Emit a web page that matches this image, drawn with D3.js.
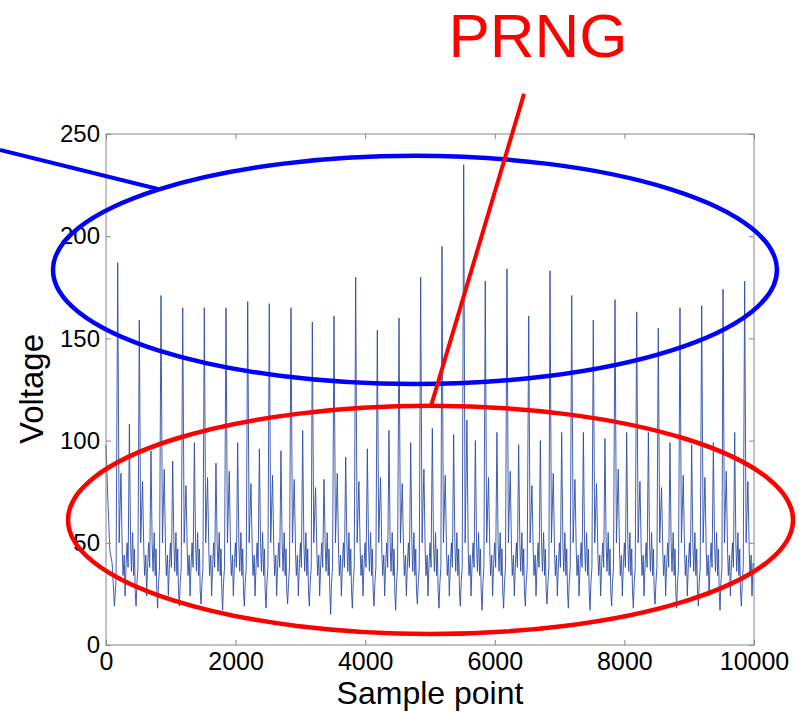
<!DOCTYPE html>
<html>
<head>
<meta charset="utf-8">
<script src="https://cdn.jsdelivr.net/npm/d3@7"></script>
<style>
  body { margin: 0; background: #fff; }
  text { font-family: Arial, "Liberation Sans", sans-serif; }
</style>
</head>
<body>
<script>
// axis ticks
var xTicks = [0, 2000, 4000, 6000, 8000, 10000];
var yTicks = [0, 50, 100, 150, 200, 250];

// one big spike per cycle: sample index and voltage
var peakSample = [181, 514, 849, 1184, 1517, 1852, 2187, 2520, 2855, 3184,
                  3519, 3853, 4187, 4522, 4856, 5185, 5520, 5853, 6188, 6523,
                  6852, 7187, 7520, 7855, 8190, 8523, 8858, 9193, 9522, 9856];
var bigPeak = [187, 159, 171, 165, 165, 165, 168, 167, 165, 158,
               161, 180, 154, 160, 180, 195, 235, 178, 184, 161,
               183, 171, 159, 169, 163, 155, 165, 166, 174, 178];
// small bump right after the big spike
var shoulderPeak = [84, 80, 86, 78, 82, 85, 79, 83, 81, 77,
                    84, 80, 82, 79, 86, 83, 110, 82, 85, 78,
                    84, 81, 79, 86, 80, 77, 83, 82, 85, 80];
// medium spike half way through the cycle
var midPeak = [108, 95, 90, 99, 89, 99, 96, 95, 105, 81,
               92, 96, 105, 99, 106, 103, 100, 104, 98, 100,
               104, 104, 101, 104, 104, 99, 98, 99, 104];
// lowest point just before the next big spike
var lowTrough = [19, 18, 19, 20, 17, 19, 18, 20, 19, 15,
                 18, 19, 17, 20, 18, 19, 17, 18, 19, 20,
                 18, 17, 19, 18, 20, 18, 19, 17, 19];

// shape of one cycle (samples after the big spike, voltage); null = per-cycle value
var cycleOffset = [0, 22, 50, 70, 82, 100, 113, 130, 145, 160, 180, 198, 212, 230, 245, 258, 270, 283, 296, 312];
var cycleLevel  = [null, 50, null, 46, 34, 44, 24, 40, 50, 38, null, 50, 36, 55, 34, 47, 26, null, 30, 38];

var startPoints = [[0, 98], [30, 70], [60, 46], [95, 40], [130, 19], [155, 32]];
var endPoints = [[10000, 38]];

// annotations, in data units
var blueEllipse = {cx: 4768, cy: 183.5, rx: 5586, ry: 55.8};
var redEllipse = {cx: 5008, cy: 61.2, rx: 5594, ry: 55.8};
var blueLine = [[-1636, 242.2], [802, 223.1]];
var redLine = [[6451, 269.6], [5015, 116.9]];
var labelPos = [6667, 287.7];

var width = 799, height = 712;
var svg = d3.select('body').append('svg')
    .attr('width', width)
    .attr('height', height);

var x = d3.scaleLinear().domain([0, 10000]).range([106, 754]);
var y = d3.scaleLinear().domain([0, 250]).range([645, 134]);

// build the vertex list
var points = startPoints.slice();
peakSample.forEach(function(t, k) {
  cycleOffset.forEach(function(o, i) {
    var v = cycleLevel[i];
    if (v === null) {
      if (o === 0) v = bigPeak[k];
      else if (o === 50) v = shoulderPeak[k];
      else if (o === 180) v = midPeak[k];
      else v = lowTrough[k];
    }
    if (v !== undefined && t + o <= 10000) points.push([t + o, v]);
  });
});
points = points.concat(endPoints);

var line = d3.line()
    .x(function(d) { return x(d[0]); })
    .y(function(d) { return y(d[1]); });

svg.append('path')
    .datum(points)
    .attr('fill', 'none')
    .attr('stroke', '#2c4da6')
    .attr('stroke-width', 0.9)
    .attr('stroke-linejoin', 'round')
    .attr('d', line);

// axes (matlab style box, ticks inward)
var grey = '#888';
function styleAxis(g) {
  g.select('.domain').remove();
  g.selectAll('.tick line').attr('stroke', grey);
  g.selectAll('.tick text').attr('fill', '#000');
}

svg.append('g')
    .attr('transform', 'translate(0,645)')
    .call(d3.axisBottom(x).tickValues(xTicks).tickFormat(d3.format('d'))
      .tickSizeInner(-5).tickSizeOuter(0).tickPadding(7))
    .call(styleAxis)
    .selectAll('text').style('font-size', '25px');

svg.append('g')
    .attr('transform', 'translate(106,0)')
    .call(d3.axisLeft(y).tickValues(yTicks).tickFormat(d3.format('d'))
      .tickSizeInner(-5).tickSizeOuter(0).tickPadding(6))
    .call(styleAxis)
    .selectAll('text').style('font-size', '24px');

svg.append('g')
    .attr('transform', 'translate(0,134)')
    .call(d3.axisTop(x).tickValues(xTicks).tickSizeInner(-5).tickSizeOuter(0).tickFormat(''))
    .call(styleAxis);

svg.append('g')
    .attr('transform', 'translate(754,0)')
    .call(d3.axisRight(y).tickValues(yTicks).tickSizeInner(-5).tickSizeOuter(0).tickFormat(''))
    .call(styleAxis);

svg.append('rect')
    .attr('x', x(0)).attr('y', y(250))
    .attr('width', x(10000) - x(0)).attr('height', y(0) - y(250))
    .attr('fill', 'none')
    .attr('stroke', grey)
    .attr('stroke-width', 1);

svg.append('text')
    .attr('x', 430).attr('y', 704)
    .attr('text-anchor', 'middle')
    .style('font-size', '32px')
    .text('Sample point');

svg.append('text')
    .attr('transform', 'translate(43,389) rotate(-90)')
    .attr('text-anchor', 'middle')
    .style('font-size', '33px')
    .text('Voltage');

// annotations
function ellipse(e, color) {
  svg.append('ellipse')
      .attr('cx', x(e.cx)).attr('cy', y(e.cy))
      .attr('rx', x(e.rx) - x(0)).attr('ry', y(0) - y(e.ry))
      .attr('fill', 'none')
      .attr('stroke', color)
      .attr('stroke-width', 4.5);
}
ellipse(blueEllipse, '#0000ff');
ellipse(redEllipse, '#ff0000');

svg.append('path')
    .datum(blueLine)
    .attr('fill', 'none')
    .attr('stroke', '#0000ff')
    .attr('stroke-width', 4)
    .attr('d', line);

svg.append('path')
    .datum(redLine)
    .attr('fill', 'none')
    .attr('stroke', '#ff0000')
    .attr('stroke-width', 4)
    .attr('d', line);

svg.append('text')
    .attr('x', x(labelPos[0])).attr('y', y(labelPos[1]))
    .attr('text-anchor', 'middle')
    .attr('fill', '#ff0000')
    .style('font-size', '62px')
    .text('PRNG');
</script>
</body>
</html>
